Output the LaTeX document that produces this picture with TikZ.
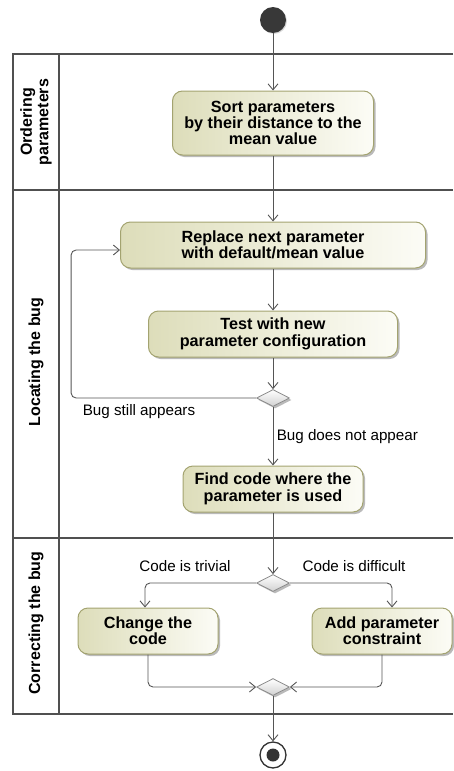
\documentclass[tikz,border=0pt]{standalone}
\usepackage{fontspec}
\setmainfont{Liberation Sans}
\usetikzlibrary{arrows.meta, positioning, shapes.geometric, shadows}
\definecolor{actleft}{RGB}{221,221,186}
\definecolor{actright}{RGB}{252,252,246}
\definecolor{actborder}{RGB}{163,163,112}
\definecolor{flowgray}{RGB}{85,85,85}
\definecolor{lanegray}{RGB}{80,80,80}

\begin{document}
\begin{tikzpicture}[x=1pt, y=-1pt, auto]
\tikzstyle{activity}=[rectangle, draw=actborder, line width=1pt,
  left color=actleft, right color=actright, rounded corners=10pt,
  align=center, minimum height=46pt, inner sep=2pt,
  font=\fontsize{16.2}{16.4}\selectfont\bfseries,
  drop shadow={shadow xshift=2pt, shadow yshift=-2pt, fill=black!45, opacity=0.6}]
\tikzstyle{decision}=[diamond, draw=black!45, line width=0.8pt,
  top color=white, bottom color=black!18, minimum width=33pt,
  minimum height=17pt, inner sep=0pt,
  drop shadow={shadow xshift=2pt, shadow yshift=-2pt, fill=black!45, opacity=0.6}]
\tikzstyle{flow}=[-{Straight Barb[length=6pt,width=10pt]}, draw=flowgray, line width=0.9pt]
\tikzstyle{lane}=[draw=lanegray, line width=2.2pt]
\tikzstyle{lanelabel}=[rotate=90, align=center,
  font=\fontsize{16}{16.6}\selectfont\bfseries]
\tikzstyle{guard}=[font=\fontsize{15.2}{16}\selectfont]

\useasboundingbox (0,0) rectangle (453,771);

% swimlanes
\draw[lane] (453,54) -- (13,54) -- (13,714) -- (453,714);
\draw[lane] (59,54) -- (59,714);
\draw[lane] (13,190) -- (453,190);
\draw[lane] (13,538) -- (453,538);

\node (laneorder) [lanelabel] at (36,122) {Ordering\\parameters};
\node (lanelocate) [lanelabel] at (36,362) {Locating the bug};
\node (lanecorrect) [lanelabel] at (36,623) {Correcting the bug};

% activities
\node (start) [circle, fill=black!78, minimum size=26pt, inner sep=0pt,
  drop shadow={shadow xshift=1pt, shadow yshift=-1pt, fill=black!30}] at (273,20) {};
\node (sort) [activity, minimum width=201pt, minimum height=64pt] at (273,123)
  {Sort parameters\\by their distance to the\\mean value};
\node (replace) [activity, minimum width=305pt] at (273,245)
  {Replace next parameter\\with default/mean value};
\node (test) [activity, minimum width=249pt, below=42pt of replace]
  {Test with new\\parameter configuration};
\node (dec1) [decision] at (273,398) {};
\node (find) [activity, minimum width=180pt] at (273,489)
  {Find code where the\\parameter is used};
\node (dec2) [decision] at (273,583) {};
\node (change) [activity, minimum width=140pt] at (148,631)
  {Change the\\code};
\node (add) [activity, minimum width=140pt] at (382,631)
  {Add parameter\\constraint};
\node (merge) [decision] at (273,687) {};
\node (stop) [circle, draw=black!80, line width=1.3pt, fill=white,
  minimum size=26pt, inner sep=0pt] at (273,755) {};
\node (stopdot) [circle, fill=black!80, minimum size=13pt, inner sep=0pt] at (stop) {};

% guards
\node (still) [guard] at (139,412) {Bug still appears};
\node (trivial) [guard] at (185,566) {Code is trivial};
\node (difficult) [guard] at (354,566) {Code is difficult};

% flows
\draw[flow] (start) -- (sort);
\draw[flow] (sort) -- (replace);
\draw[flow] (replace) -- (test);
\draw[flow] (test) -- (dec1);
\draw[flow, rounded corners=5pt] (dec1.west) -- ++(-185,0) |- ([yshift=-5pt]replace.west);
\draw[flow] (dec1) -- node[guard, right, pos=0.5] (notappear) {Bug does not appear} (find);
\draw[flow] (find) -- (dec2);
\draw[flow, rounded corners=5pt] (dec2.west) -| ([xshift=-3pt]change.north);
\draw[flow, rounded corners=5pt] (dec2.east) -| ([xshift=10pt]add.north);
\draw[flow, rounded corners=5pt] (change.south) |- (merge.west);
\draw[flow, rounded corners=5pt] (add.south) |- (merge.east);
\draw[flow] (merge) -- (stop);
\end{tikzpicture}
\end{document}
